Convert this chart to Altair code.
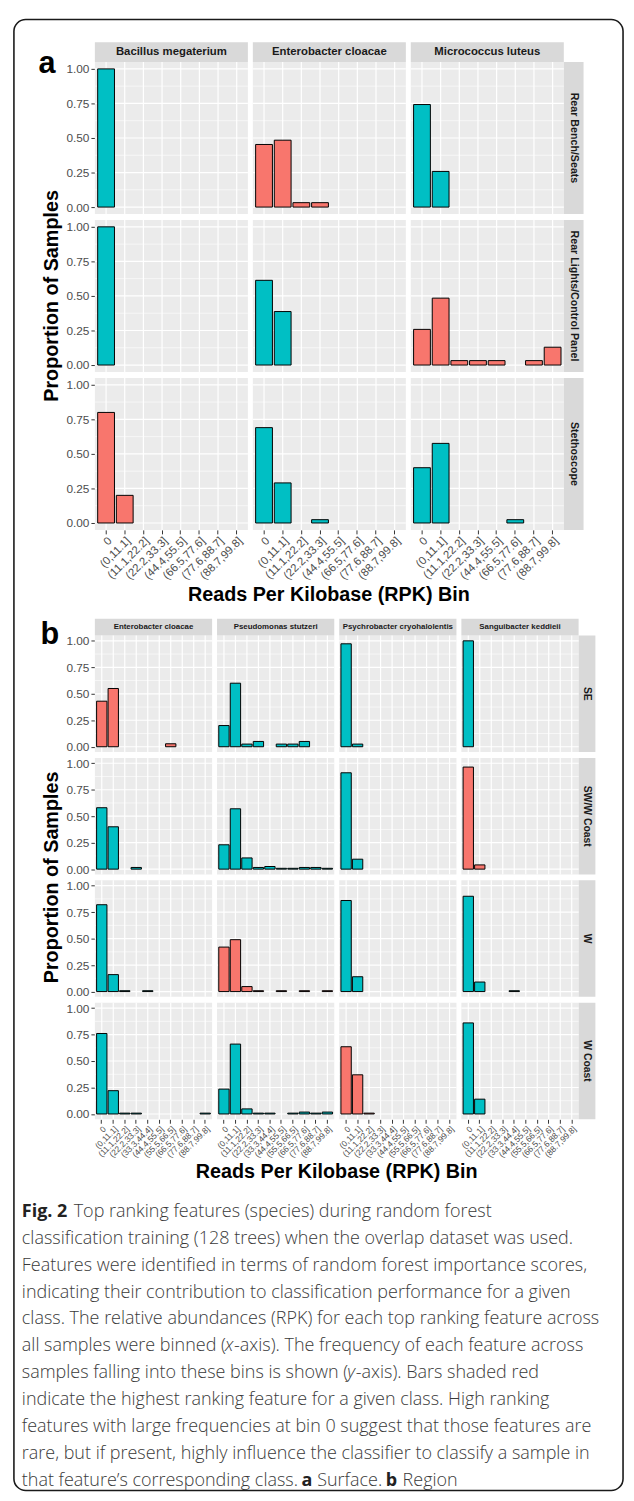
import altair as alt
import pandas as pd

# ---------------- data ----------------
bins_a = ["0", "(0,11.1]", "(11.1,22.2]", "(22.2,33.3]", "(44.4,55.5]",
          "(66.5,77.6]", "(77.6,88.7]", "(88.7,99.8]"]
bins_b = ["0", "(0,11.1]", "(11.1,22.2]", "(22.2,33.3]", "(33.3,44.4]",
          "(44.4,55.5]", "(55.5,66.5]", "(66.5,77.6]", "(77.6,88.7]", "(88.7,99.8]"]

species_a = ["Bacillus megaterium", "Enterobacter cloacae", "Micrococcus luteus"]
surfaces_a = ["Rear Bench/Seats", "Rear Lights/Control Panel", "Stethoscope"]
top_feature_a = ["Enterobacter cloacae", "Micrococcus luteus", "Bacillus megaterium"]

species_b = ["Enterobacter cloacae", "Pseudomonas stutzeri",
             "Psychrobacter cryohalolentis", "Sanguibacter keddieii"]
regions_b = ["SE", "SW/W Coast", "W", "W Coast"]
top_feature_b = ["Enterobacter cloacae", "Sanguibacter keddieii",
                 "Pseudomonas stutzeri", "Psychrobacter cryohalolentis"]

N = None
# panel a values (one list per surface x species, over bins_a)
bench_bacillus = [1.00, N, N, N, N, N, N, N]
bench_entero = [0.453, 0.484, 0.032, 0.032, N, N, N, N]
bench_micro = [0.742, 0.258, N, N, N, N, N, N]
lights_bacillus = [1.00, N, N, N, N, N, N, N]
lights_entero = [0.613, 0.387, N, N, N, N, N, N]
lights_micro = [0.258, 0.484, 0.032, 0.032, 0.032, N, 0.032, 0.129]
steth_bacillus = [0.80, 0.20, N, N, N, N, N, N]
steth_entero = [0.69, 0.29, N, 0.024, N, N, N, N]
steth_micro = [0.40, 0.576, N, N, N, 0.024, N, N]

# panel b values (one list per region x species, over bins_b)
se_entero = [0.43, 0.55, N, N, N, N, 0.028, N, N, N]
se_pseudo = [0.20, 0.60, 0.025, 0.05, N, 0.025, 0.025, 0.05, N, N]
se_psychro = [0.972, 0.025, N, N, N, N, N, N, N, N]
se_sangui = [1.00, N, N, N, N, N, N, N, N, N]
sw_entero = [0.58, 0.40, N, 0.016, N, N, N, N, N, N]
sw_pseudo = [0.23, 0.57, 0.106, 0.016, 0.025, 0.008, 0.008, 0.016, 0.016, 0.008]
sw_psychro = [0.91, 0.094, N, N, N, N, N, N, N, N]
sw_sangui = [0.964, 0.04, N, N, N, N, N, N, N, N]
w_entero = [0.82, 0.16, 0.008, N, 0.008, N, N, N, N, N]
w_pseudo = [0.42, 0.49, 0.047, 0.008, N, 0.008, N, 0.008, N, 0.008]
w_psychro = [0.86, 0.14, N, N, N, N, N, N, N, N]
w_sangui = [0.90, 0.09, N, N, 0.008, N, N, N, N, N]
wc_entero = [0.76, 0.22, 0.008, 0.008, N, N, N, N, N, 0.008]
wc_pseudo = [0.235, 0.66, 0.048, 0.008, 0.008, N, 0.008, 0.018, 0.008, 0.018]
wc_psychro = [0.635, 0.37, 0.008, N, N, N, N, N, N, N]
wc_sangui = [0.86, 0.14, N, N, N, N, N, N, N, N]

values_a = [[bench_bacillus, bench_entero, bench_micro],
            [lights_bacillus, lights_entero, lights_micro],
            [steth_bacillus, steth_entero, steth_micro]]
values_b = [[se_entero, se_pseudo, se_psychro, se_sangui],
            [sw_entero, sw_pseudo, sw_psychro, sw_sangui],
            [w_entero, w_pseudo, w_psychro, w_sangui],
            [wc_entero, wc_pseudo, wc_psychro, wc_sangui]]

y_title = "Proportion of Samples"
x_title = "Reads Per Kilobase (RPK) Bin"
# caption: each line is a list of (text, style) runs; r=regular, b=bold, i=italic
caption_lines = [
    [("Fig. 2", "b"), (" Top ranking features (species) during random forest", "r")],
    [("classification training (128 trees) when the overlap dataset was used.", "r")],
    [("Features were identified in terms of random forest importance scores,", "r")],
    [("indicating their contribution to classification performance for a given", "r")],
    [("class. The relative abundances (RPK) for each top ranking feature across", "r")],
    [("all samples were binned (", "r"), ("x", "i"), ("-axis). The frequency of each feature across", "r")],
    [("samples falling into these bins is shown (", "r"), ("y", "i"), ("-axis). Bars shaded red", "r")],
    [("indicate the highest ranking feature for a given class. High ranking", "r")],
    [("features with large frequencies at bin 0 suggest that those features are", "r")],
    [("rare, but if present, highly influence the classifier to classify a sample in", "r")],
    [("that feature\u2019s corresponding class. ", "r"), ("a", "b"), (" Surface. ", "r"),
     ("b", "b"), (" Region", "r")],
]

# ---------------- layout (page pixels) ----------------
W, H = 626, 1493
M = 8  # page margin


def c(v):
    return v - M


TEAL, RED = "#00BFC4", "#F8766D"
PANEL_BG, STRIP_BG = "#EBEBEB", "#D9D9D9"
FONT = "Liberation Sans"
CAP_FONT = "Open Sans"
CAP_SIZE = 18.2
CAP_COLOR = "#3a3a3a"

a_cols = [(96, 251), (256, 411), (416, 571)]
a_rows = [(53, 207), (213, 367), (373, 527)]
a_top = (33, 53)
a_right = (571, 591)
b_cols = [(96, 214.75), (219.75, 338.5), (343.5, 462.25), (467.25, 586)]
b_rows = [(634, 752), (758, 876), (882, 1000), (1006, 1124)]
b_top = (617, 634)
b_right = (586, 603)

layers = []


def rect_layer(rows, **kw):
    df = pd.DataFrame(rows, columns=["x", "x2", "y", "y2"])
    return alt.Chart(df).mark_rect(**kw).encode(
        x=alt.X("x:Q", scale=None), x2="x2:Q",
        y=alt.Y("y:Q", scale=None), y2="y2:Q")


def text_layer(rows, **kw):
    df = pd.DataFrame(rows, columns=["x", "y", "t"])
    return alt.Chart(df).mark_text(**kw).encode(
        x=alt.X("x:Q", scale=None), y=alt.Y("y:Q", scale=None), text="t:N")


# border
layers.append(rect_layer([(c(14), c(631), c(10), c(1500))], filled=False,
                         stroke="#1a1a1a", strokeWidth=1.6, cornerRadius=12))

# panel backgrounds
bg = [(c(x0), c(x1), c(y0), c(y1)) for (x0, x1) in a_cols for (y0, y1) in a_rows]
bg += [(c(x0), c(x1), c(y0), c(y1)) for (x0, x1) in b_cols for (y0, y1) in b_rows]
layers.append(rect_layer(bg, color=PANEL_BG))

# strips
strips = [(c(x0), c(x1), c(a_top[0]), c(a_top[1])) for (x0, x1) in a_cols]
strips += [(c(a_right[0]), c(a_right[1]), c(y0), c(y1)) for (y0, y1) in a_rows]
strips += [(c(x0), c(x1), c(b_top[0]), c(b_top[1])) for (x0, x1) in b_cols]
strips += [(c(b_right[0]), c(b_right[1]), c(y0), c(y1)) for (y0, y1) in b_rows]
layers.append(rect_layer(strips, color=STRIP_BG))

layers.append(text_layer(
    [(c((x0 + x1) / 2), c((a_top[0] + a_top[1]) / 2), s) for (x0, x1), s in zip(a_cols, species_a)],
    font=FONT, fontSize=11.5, fontWeight="bold", color="#1A1A1A", baseline="middle", align="center"))
layers.append(text_layer(
    [(c((a_right[0] + a_right[1]) / 2), c((y0 + y1) / 2), s) for (y0, y1), s in zip(a_rows, surfaces_a)],
    font=FONT, fontSize=10.8, fontWeight="bold", color="#1A1A1A", baseline="middle", align="center", angle=90))
layers.append(text_layer(
    [(c((x0 + x1) / 2), c((b_top[0] + b_top[1]) / 2), s) for (x0, x1), s in zip(b_cols, species_b)],
    font=FONT, fontSize=8, fontWeight="bold", color="#1A1A1A", baseline="middle", align="center"))
layers.append(text_layer(
    [(c((b_right[0] + b_right[1]) / 2), c((y0 + y1) / 2), s) for (y0, y1), s in zip(b_rows, regions_b)],
    font=FONT, fontSize=10.5, fontWeight="bold", color="#1A1A1A", baseline="middle", align="center", angle=90))


def cell(xr, yr, bins, vals, highlighted, show_y, show_x, xsize):
    x0, x1 = c(xr[0]), c(xr[1])
    y0, y1 = c(yr[0]), c(yr[1])
    xs = alt.Scale(domain=bins, range=[x0, x1], paddingInner=0.1, paddingOuter=0.15)
    ys = alt.Scale(domain=[-0.05, 1.05], range=[y1, y0], nice=False, zero=False)
    out = []
    out.append(alt.Chart(pd.DataFrame({"v": [0.125, 0.375, 0.625, 0.875]}))
               .mark_rule(color="white", strokeWidth=0.6)
               .encode(y=alt.Y("v:Q", scale=ys, axis=None), x=alt.value(x0), x2=alt.value(x1)))
    out.append(alt.Chart(pd.DataFrame({"v": [0, 0.25, 0.5, 0.75, 1.0]}))
               .mark_rule(color="white", strokeWidth=1.2)
               .encode(y=alt.Y("v:Q", scale=ys, axis=None), x=alt.value(x0), x2=alt.value(x1)))
    out.append(alt.Chart(pd.DataFrame({"bin": bins}))
               .mark_rule(color="white", strokeWidth=1.2)
               .encode(x=alt.X("bin:N", scale=xs, axis=None), y=alt.value(y0), y2=alt.value(y1)))
    df = pd.DataFrame({"bin": bins, "value": vals}).dropna()
    df["top"] = "yes" if highlighted else "no"
    if show_y:
        yaxis = alt.Axis(orient="left", offset=-x0, values=[0, 0.25, 0.5, 0.75, 1.0], format=".2f",
                         grid=False, domain=False, tickColor="#333333", tickSize=4, tickWidth=1,
                         labelFont=FONT, labelFontSize=12, labelColor="#4D4D4D", labelPadding=2,
                         title=None)
    else:
        yaxis = None
    if show_x:
        xaxis = alt.Axis(orient="bottom", offset=y1 - H, labelAngle=-45, labelAlign="right",
                         labelBaseline="top", grid=False, domain=False, tickColor="#333333",
                         tickSize=4, tickWidth=1, labelFont=FONT, labelFontSize=xsize,
                         labelColor="#4D4D4D", labelPadding=1, title=None)
    else:
        xaxis = None
    out.append(alt.Chart(df).mark_bar(stroke="black", strokeWidth=1).encode(
        x=alt.X("bin:N", scale=xs, axis=xaxis),
        y=alt.Y("value:Q", scale=ys, axis=yaxis),
        color=alt.Color("top:N", scale=alt.Scale(domain=["no", "yes"], range=[TEAL, RED]), legend=None)))
    return out


for r, (yr, top) in enumerate(zip(a_rows, top_feature_a)):
    for k, (xr, sp) in enumerate(zip(a_cols, species_a)):
        layers += cell(xr, yr, bins_a, values_a[r][k], sp == top, k == 0, r == len(a_rows) - 1, 11.5)

for r, (yr, top) in enumerate(zip(b_rows, top_feature_b)):
    for k, (xr, sp) in enumerate(zip(b_cols, species_b)):
        layers += cell(xr, yr, bins_b, values_b[r][k], sp == top, k == 0, r == len(b_rows) - 1, 8.5)

# titles and panel letters
layers.append(text_layer([(c(53), c(290), y_title), (c(53), c(879), y_title)],
                         font=FONT, fontSize=20, fontWeight="bold", color="black",
                         angle=270, align="center", baseline="middle"))
layers.append(text_layer([(c(333), c(593), x_title), (c(341), c(1177), x_title)],
                         font=FONT, fontSize=20, fontWeight="bold", color="black",
                         align="center", baseline="middle"))
layers.append(text_layer([(c(39), c(64), "a"), (c(41), c(643), "b")],
                         font=FONT, fontSize=31, fontWeight="bold", color="black",
                         align="left", baseline="alphabetic"))

# caption: approximate advance widths (em) used only to chain runs within a line
_w = {" ": .26, "a": .556, "b": .613, "c": .476, "d": .613, "e": .561, "f": .339, "g": .548,
      "h": .614, "i": .253, "j": .253, "k": .525, "l": .253, "m": .93, "n": .614, "o": .604,
      "p": .613, "q": .613, "r": .408, "s": .477, "t": .353, "u": .614, "v": .501, "w": .778,
      "x": .524, "y": .502, "z": .468, ".": .266, ",": .245, "(": .297, ")": .297, "-": .322,
      "\u2019": .21, "F": .532, "T": .55, "S": .55, "R": .608, "B": .63, "H": .74, "P": .6,
      "K": .6, "2": .572, "0": .572, "1": .572, "8": .572}
_style_factor = {"r": 0.955, "i": 0.955, "b": 1.07}


def run_width(text, style):
    return sum(_w.get(ch, .56) for ch in text) * CAP_SIZE * _style_factor[style]


cap_x0, cap_y0, cap_dy = 22, 1218, 27.2
runs = {"r": [], "b": [], "i": []}
for i, line in enumerate(caption_lines):
    x = cap_x0
    for text, style in line:
        lead = len(text) - len(text.lstrip(" "))
        runs[style].append((c(x + lead * _w[" "] * CAP_SIZE * 1.1),
                            c(cap_y0 + i * cap_dy), text.strip(" ")))
        x += run_width(text, style)

layers.append(text_layer(runs["r"], font=CAP_FONT, fontSize=CAP_SIZE, fontWeight=300, color=CAP_COLOR,
                         align="left", baseline="middle"))
layers.append(text_layer(runs["b"], font=CAP_FONT, fontSize=CAP_SIZE, fontWeight="bold",
                         color="#222222", align="left", baseline="middle"))
layers.append(text_layer(runs["i"], font=CAP_FONT, fontSize=CAP_SIZE, fontWeight=300, fontStyle="italic",
                         color=CAP_COLOR, align="left", baseline="middle"))

chart = alt.layer(*layers).resolve_scale(x="independent", y="independent").properties(
    width=W, height=H, autosize=alt.AutoSizeParams(type="none"), padding=0,
    background="white"
).configure_view(strokeWidth=0)

chart.save("out.html", embed_options={"renderer": "svg", "actions": False})
